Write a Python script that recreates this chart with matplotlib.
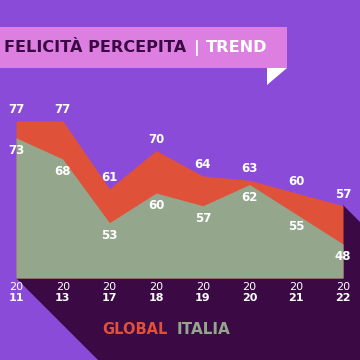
"""
plot.py
Felicità percepita - trend Global vs Italia
"""

import matplotlib
matplotlib.use('Agg')
import matplotlib.pyplot as plt
from matplotlib.patches import Polygon, Rectangle

# -------------------------------
# PODACI
# -------------------------------

YEARS_TOP    = ['20'] * 8
YEARS_BOTTOM = ['11', '13', '17', '18', '19', '20', '21', '22']
GLOBAL       = [77, 77, 61, 70, 64, 63, 60, 57]
ITALIA       = [73, 68, 53, 60, 57, 62, 55, 48]

# -------------------------------
# BOJE
# -------------------------------

BG_PURPLE   = '#8a4bd8'
DARK_PURPLE = '#3b0a45'
PINK        = '#dc7fe0'
RED         = '#e0513a'
GREEN       = '#94a78d'
WHITE       = '#ffffff'

plt.rcParams['font.family'] = ['DejaVu Sans']

W = H = 360

fig = plt.figure(figsize=(3.6, 3.6), dpi=100)
fig.patch.set_facecolor(BG_PURPLE)

# overlay u pikselima (sjena, banner)
over = fig.add_axes([0, 0, 1, 1])
over.set_xlim(0, W)
over.set_ylim(H, 0)
over.axis('off')

# sjena ispod i desno od grafikona
shadow = Polygon([(16, 278), (98, 360), (360, 360), (360, 222),
                  (343, 205), (343, 278)],
                 closed=True, facecolor=DARK_PURPLE, edgecolor='none')
over.add_patch(shadow)

# banner s naslovom
over.add_patch(Rectangle((0, 27), 287, 41, facecolor=PINK, edgecolor='none'))
over.add_patch(Polygon([(267, 68), (287, 68), (267, 85)], closed=True,
                       facecolor=WHITE, edgecolor='none'))
over.text(4, 48, 'FELICITÀ PERCEPITA', color=DARK_PURPLE, fontsize=11.6,
          fontweight='bold', va='center', ha='left')
over.text(197, 48, '|', color=WHITE, fontsize=11.6,
          fontweight='bold', va='center', ha='center')
over.text(206, 48, 'TREND', color=WHITE, fontsize=11.6,
          fontweight='bold', va='center', ha='left')

# legenda
over.text(102, 330, 'GLOBAL', color=RED, fontsize=10.5,
          fontweight='bold', va='center', ha='left')
over.text(177, 330, 'ITALIA', color=GREEN, fontsize=11,
          fontweight='bold', va='center', ha='left')

# -------------------------------
# GRAFIKON
# -------------------------------

left, right = 16 / W, 343 / W
bottom, top = (H - 278) / H, (H - 100) / H
ax = fig.add_axes([left, bottom, right - left, top - bottom])
ax.set_facecolor('none')
ax.axis('off')

x = list(range(len(GLOBAL)))
y_base = 40
ax.set_xlim(0, len(x) - 1)
ax.set_ylim(y_base, y_base + 178 / 4.25)

ax.fill_between(x, y_base, GLOBAL, color=RED, linewidth=0)
ax.fill_between(x, y_base, ITALIA, color=GREEN, linewidth=0)

# oznake vrijednosti
for i in x:
    ax.annotate(f'{GLOBAL[i]}', xy=(i, GLOBAL[i]), xytext=(0, 3.5),
                textcoords='offset points', ha='center', va='bottom',
                color=WHITE, fontsize=8.5, fontweight='bold',
                annotation_clip=False)
    ax.annotate(f'{ITALIA[i]}', xy=(i, ITALIA[i]), xytext=(0, -4.5),
                textcoords='offset points', ha='center', va='top',
                color=WHITE, fontsize=8.5, fontweight='bold',
                annotation_clip=False)

# oznake godina
trans = ax.get_xaxis_transform()
for i in x:
    ax.text(i, -0.052, YEARS_TOP[i], transform=trans, ha='center',
            va='center', color=WHITE, fontsize=8, fontweight='normal')
    ax.text(i, -0.115, YEARS_BOTTOM[i], transform=trans, ha='center',
            va='center', color=WHITE, fontsize=8, fontweight='bold')

fig.savefig('out.png', dpi=100, facecolor=fig.get_facecolor())
plt.close(fig)
